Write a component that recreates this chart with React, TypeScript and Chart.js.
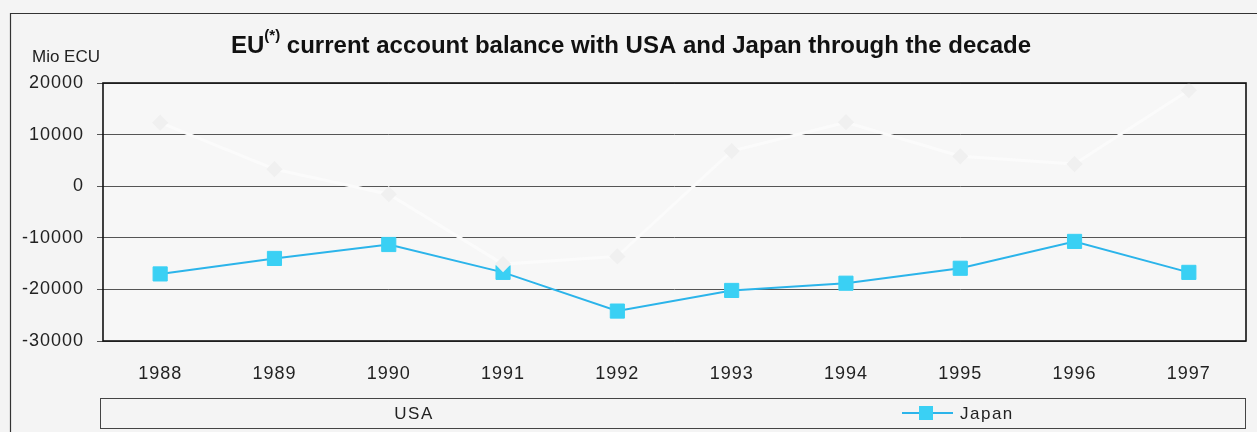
import React, { useEffect, useRef } from "react";
import { Chart, registerables } from "chart.js";

Chart.register(...registerables);

const years = ["1988", "1989", "1990", "1991", "1992", "1993", "1994", "1995", "1996", "1997"];
const usaValues = [12300, 3300, -1550, -15100, -13600, 6800, 12400, 5800, 4300, 18600];
const japanValues = [-17000, -14000, -11300, -16700, -24200, -20200, -18800, -15900, -10700, -16700];
const yTicks = [20000, 10000, 0, -10000, -20000, -30000];

const FONT = "'Liberation Sans', Arial, sans-serif";
const JAPAN_LINE = "#2bb4ea";
const JAPAN_FILL = "#3ad0f4";

const decorPlugin = {
  id: "decor",
  beforeDraw(chart: any) {
    const { ctx, chartArea: a, width, height } = chart;
    ctx.save();
    ctx.fillStyle = "#f4f4f4";
    ctx.fillRect(0, 0, width, height);
    ctx.fillStyle = "#f7f7f7";
    ctx.fillRect(a.left, a.top, a.right - a.left, a.bottom - a.top);
    ctx.strokeStyle = "#333";
    ctx.lineWidth = 1.2;
    ctx.beginPath();
    ctx.moveTo(10.5, height);
    ctx.lineTo(10.5, 13.5);
    ctx.lineTo(width, 13.5);
    ctx.stroke();
    ctx.restore();
    // slight letter spacing for axis tick labels drawn afterwards
    (ctx as any).letterSpacing = "1px";
  },
  afterDraw(chart: any) {
    const { ctx, chartArea: a } = chart;
    ctx.save();
    (ctx as any).letterSpacing = "0px";
    ctx.strokeStyle = "#111";
    ctx.lineWidth = 1.6;
    ctx.strokeRect(a.left, a.top, a.right - a.left, a.bottom - a.top);

    const big = `bold 24px ${FONT}`;
    const small = `bold 15px ${FONT}`;
    const p1 = "EU";
    const sup = "(*)";
    const p2 = " current account balance with USA and Japan through the decade";
    ctx.font = big;
    const w1 = ctx.measureText(p1).width;
    const w3 = ctx.measureText(p2).width;
    ctx.font = small;
    const w2 = ctx.measureText(sup).width;
    const total = w1 + w2 + w3;
    let x = 631 - total / 2;
    const base = 53;
    ctx.fillStyle = "#111";
    ctx.textBaseline = "alphabetic";
    ctx.textAlign = "left";
    ctx.font = big;
    ctx.fillText(p1, x, base);
    x += w1;
    ctx.font = small;
    ctx.fillText(sup, x, base - 13);
    x += w2;
    ctx.font = big;
    ctx.fillText(p2, x, base);

    ctx.font = `17px ${FONT}`;
    ctx.fillStyle = "#222";
    ctx.fillText("Mio ECU", 32, 62);

    ctx.strokeStyle = "#444";
    ctx.lineWidth = 1;
    ctx.strokeRect(100.5, 398.5, 1145, 30);
    (ctx as any).letterSpacing = "1.5px";
    ctx.font = `17px ${FONT}`;
    ctx.fillStyle = "#222";
    ctx.textBaseline = "middle";
    ctx.textAlign = "center";
    ctx.fillText("USA", 414, 414);
    ctx.strokeStyle = JAPAN_LINE;
    ctx.lineWidth = 2;
    ctx.beginPath();
    ctx.moveTo(902, 413);
    ctx.lineTo(953, 413);
    ctx.stroke();
    ctx.fillStyle = JAPAN_FILL;
    ctx.fillRect(919, 406, 14, 14);
    ctx.fillStyle = "#222";
    ctx.textAlign = "left";
    ctx.fillText("Japan", 960, 414);
    ctx.restore();
  },
};

export default function App() {
  const ref = useRef<HTMLCanvasElement | null>(null);
  useEffect(() => {
    if (!ref.current) return;
    const chart = new Chart(ref.current, {
      type: "line",
      data: {
        labels: years,
        datasets: [
          {
            label: "USA",
            data: usaValues,
            borderColor: "#fbfbfb",
            borderWidth: 3,
            pointStyle: "rectRot",
            pointRadius: 6,
            pointBackgroundColor: "#f0f0f0",
            pointBorderColor: "#f0f0f0",
            tension: 0,
          },
          {
            label: "Japan",
            data: japanValues,
            borderColor: JAPAN_LINE,
            borderWidth: 2,
            pointStyle: "rect",
            pointRadius: 10,
            pointBackgroundColor: JAPAN_FILL,
            pointBorderColor: JAPAN_FILL,
            pointBorderWidth: 1,
            tension: 0,
          },
        ],
      },
      options: {
        animation: false,
        responsive: false,
        devicePixelRatio: 1,
        layout: { padding: { top: 83, left: 0, right: 9, bottom: 0 } },
        plugins: {
          legend: { display: false },
          title: { display: false },
          tooltip: { enabled: false },
        },
        scales: {
          x: {
            type: "category",
            offset: true,
            grid: { display: false, drawTicks: false },
            border: { display: false },
            ticks: {
              color: "#222",
              font: { family: FONT, size: 18 },
              padding: 22,
              maxRotation: 0,
            },
            afterFit: (s: any) => {
              s.height = 91;
            },
          },
          y: {
            min: -30000,
            max: 20000,
            afterBuildTicks: (s: any) => {
              s.ticks = yTicks.map((v) => ({ value: v }));
            },
            grid: { color: "#555", lineWidth: 1, tickLength: 6 },
            border: { display: false },
            ticks: {
              color: "#222",
              font: { family: FONT, size: 18 },
              padding: 13,
              callback: (v: any) => String(v),
            },
            afterFit: (s: any) => {
              s.width = 103;
            },
          },
        },
      },
      plugins: [decorPlugin],
    });
    return () => chart.destroy();
  }, []);
  return (
    <div style={{ position: "absolute", left: 0, top: 0, width: 1257, height: 432 }}>
      <canvas ref={ref} width={1257} height={432} />
    </div>
  );
}
